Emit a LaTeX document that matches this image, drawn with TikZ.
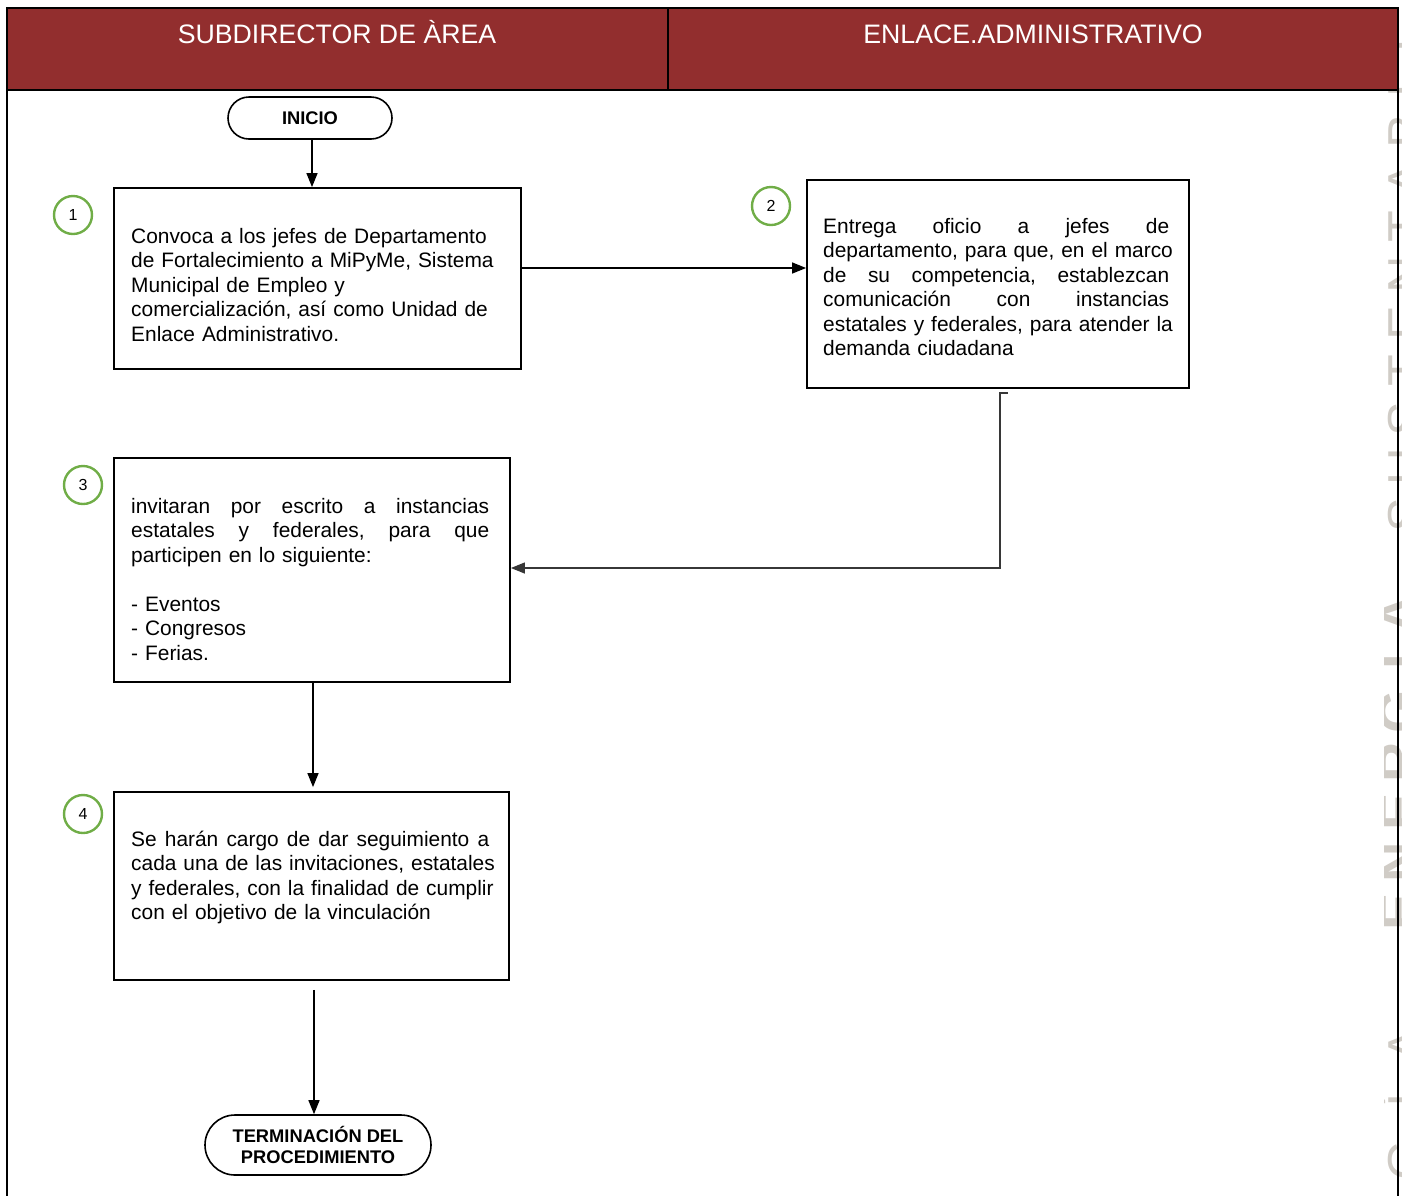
\documentclass[tikz,border=0pt]{standalone}
\usepackage{fontspec}
\setmainfont{Liberation Sans}
\usetikzlibrary{arrows.meta,calc}

\definecolor{hdrred}{RGB}{146,46,46}
\definecolor{stepgreen}{RGB}{112,173,71}
\definecolor{wmgray}{RGB}{208,204,198}
\definecolor{linkgray}{RGB}{55,55,55}

% a line spread to a given width (justified line), words separated by \hfill
\newcommand\spreadline[2]{\makebox[#1][s]{#2}}

\begin{document}
\begin{tikzpicture}[x=1pt,y=-1pt,
  frameline/.style={line width=2.4pt},
  stepbox/.style={draw, rectangle, line width=1.8pt, inner sep=0pt},
  terminal/.style={draw, rectangle, line width=1.6pt, inner sep=0pt, align=center,
    font=\bfseries\fontsize{18.3}{21}\selectfont},
  stepnum/.style={circle, draw=stepgreen, line width=2.4pt, minimum size=38pt,
    inner sep=0pt, font=\fontsize{16}{16}\selectfont},
  bodytext/.style={anchor=base west, inner sep=0pt, align=left,
    font=\fontsize{20.9}{24.5}\selectfont},
  lanetitle/.style={anchor=base, inner sep=0pt, text=white,
    font=\fontsize{26.7}{26.7}\selectfont},
  flow/.style={line width=1.3pt, -{Triangle[length=14pt,width=11pt]}},
  wmthin/.style={rotate=90, anchor=base, inner sep=0pt, text=wmgray,
    font=\fontsize{52}{52}\selectfont},
  wmbold/.style={rotate=90, anchor=base, inner sep=0pt, text=wmgray,
    font=\bfseries\fontsize{56}{56}\selectfont},
]
\useasboundingbox (0,0) rectangle (1402,1195);

% faint lettering along the right edge
\begin{scope}
  \clip (1384,0) rectangle (1402,1195);
  \foreach \l/\y [count=\i] in {S/515,U/467,S/419,T/371,E/323,N/275,T/227,A/179,B/131,L/83,E/35}
    \node[wmthin] (wma\i) at (1424,\y) {\l};
  \foreach \l/\y [count=\i] in {E/912,N/862,E/812,R/762,G/712,Í/662,A/614}
    \node[wmbold] (wmb\i) at (1418,\y) {\l};
  \foreach \l/\y [count=\i] in {G/1160,Í/1100,A/1045}
    \node[wmthin] (wmc\i) at (1424,\y) {\l};
\end{scope}

% lanes
\fill[hdrred] (7,8) rectangle (1398,90);
\draw[frameline] (7,1197) -- (7,8) -- (1398,8) -- (1398,1197);
\draw[frameline] (7,90) -- (1398,90);
\draw[frameline] (668,8) -- (668,90);
\node[lanetitle] (lane1) at (337,43) {SUBDIRECTOR DE ÀREA};
\node[lanetitle] (lane2) at (1033,43) {ENLACE.ADMINISTRATIVO};

% terminals
\node[terminal, rounded corners=21pt, minimum width=164pt, minimum height=42pt]
  (start) at (310,118) {INICIO};
\node[terminal, rounded corners=30pt, minimum width=226pt, minimum height=60pt]
  (finish) at (318,1145) {TERMINACIÓN DEL\\PROCEDIMIENTO};

% process boxes
\node[stepbox, minimum width=407pt, minimum height=181pt] (b1) at (317.5,278.5) {};
\node[stepbox, minimum width=382pt, minimum height=208pt] (b2) at (998,284) {};
\node[stepbox, minimum width=396pt, minimum height=224pt] (b3) at (312,570) {};
\node[stepbox, minimum width=395pt, minimum height=188pt] (b4) at (311.5,886) {};

% step numbers
\node[stepnum] (n1) at (73,215) {1};
\node[stepnum] (n2) at (771,206) {2};
\node[stepnum] (n3) at (83,485) {3};
\node[stepnum] (n4) at (83,814) {4};

% box texts
\node[bodytext, text width=374pt] (t1) at (131,243)
  {Convoca a los jefes de Departamento\\
   de Fortalecimiento a MiPyMe, Sistema\\
   Municipal de Empleo y\\
   comercialización, así como Unidad de\\
   Enlace Administrativo.};
\node[bodytext, text width=360pt] (t2) at (823,233)
  {\spreadline{346pt}{Entrega\hfill oficio\hfill a\hfill jefes\hfill de}\\
   departamento, para que, en el marco\\
   \spreadline{346pt}{de\hfill su\hfill competencia,\hfill establezcan}\\
   \spreadline{346pt}{comunicación\hfill con\hfill instancias}\\
   estatales y federales, para atender la\\
   demanda ciudadana};
\node[bodytext, text width=370pt] (t3) at (131,513)
  {\spreadline{358pt}{invitaran\hfill por\hfill escrito\hfill a\hfill instancias}\\
   \spreadline{358pt}{estatales\hfill y\hfill federales,\hfill para\hfill que}\\
   participen en lo siguiente:\\[24.5pt]
   - Eventos\\
   - Congresos\\
   - Ferias.};
\node[bodytext, text width=370pt] (t4) at (131,846)
  {\spreadline{358pt}{Se\hfill harán\hfill cargo\hfill de\hfill dar\hfill seguimiento\hfill a}\\
   cada una de las invitaciones, estatales\\
   y federales, con la finalidad de cumplir\\
   con el objetivo de la vinculación};

% connectors
\draw[flow] ([xshift=2pt]start.south) -- ([xshift=2pt]start.south |- b1.north);
\draw[flow] ([yshift=10.5pt]b1.east) -- ([yshift=10.5pt]b1.east -| b2.west);
\draw[flow, draw=linkgray] ([xshift=10pt,yshift=-4pt]b2.south) -- ++(-8,0)
  |- ([yshift=2pt]b3.east);
\draw[flow] ([xshift=1pt]b3.south) -- ([xshift=1.5pt,yshift=4pt]b4.north);
\draw[flow] ([xshift=2.5pt,yshift=-9pt]b4.south) -- ([xshift=2.5pt]b4.south |- finish.north);

\end{tikzpicture}
\end{document}
